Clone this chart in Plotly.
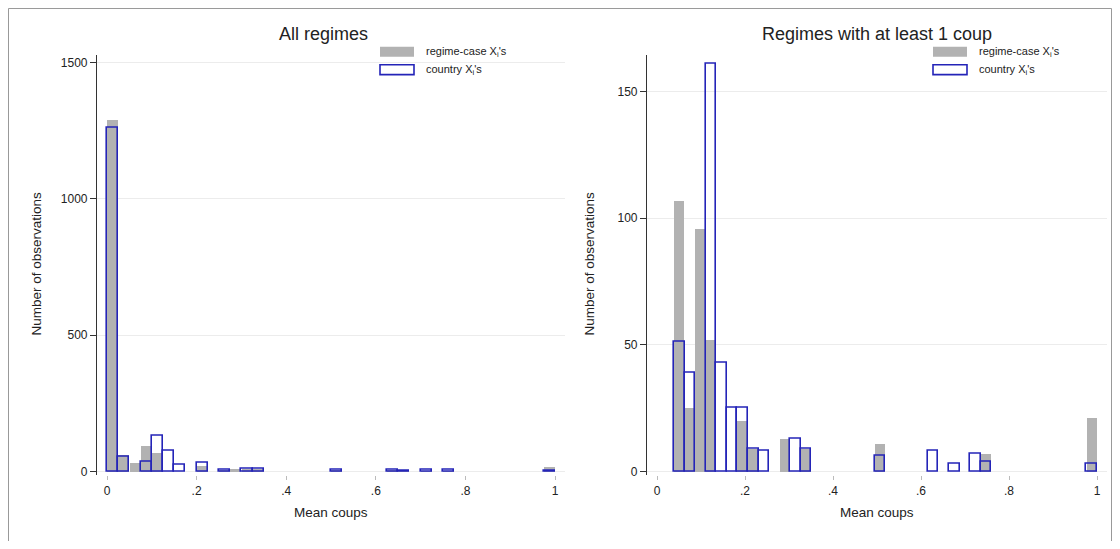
import plotly.graph_objects as go

# ---------------- data ----------------
n_bins = 40
left_start = 0.0
left_width = 0.025
right_start = 1 / 26
right_width = (1 - 1 / 26) / 40

left_regime = [1290, 62, 30, 95, 68, 0, 0, 0, 22, 0,
               3, 8, 10, 8, 0, 0, 0, 0, 0, 0,
               3, 0, 0, 0, 0, 3, 2, 0, 2, 0,
               2, 0, 0, 0, 0, 0, 0, 0, 0, 18]
left_country = [1260, 52, 0, 36, 130, 76, 25, 0, 30, 0,
                5, 0, 10, 10, 0, 0, 0, 0, 0, 0,
                5, 0, 0, 0, 0, 5, 2, 0, 5, 0,
                5, 0, 0, 0, 0, 0, 0, 0, 0, 3]
right_regime = [107, 25, 96, 52, 0, 0, 20, 9, 0, 0,
                13, 0, 9, 0, 0, 0, 0, 0, 0, 11,
                0, 0, 0, 0, 0, 0, 0, 0, 0, 7,
                0, 0, 0, 0, 0, 0, 0, 0, 0, 21]
right_country = [51, 39, 0, 161, 43, 25, 25, 9, 8, 0,
                 0, 13, 9, 0, 0, 0, 0, 0, 0, 6,
                 0, 0, 0, 0, 8, 0, 3, 0, 7, 4,
                 0, 0, 0, 0, 0, 0, 0, 0, 0, 3]

x_tickvals = [0, 0.2, 0.4, 0.6, 0.8, 1]
x_ticktext = ["0", ".2", ".4", ".6", ".8", "1"]
left_yticks = [0, 500, 1000, 1500]
right_yticks = [0, 50, 100, 150]

titles = ["All regimes", "Regimes with at least 1 coup"]
series_names = ["regime-case X<sub>i</sub>'s", "country X<sub>i</sub>'s"]
x_title = "Mean coups"
y_title = "Number of observations"

# ---------------- styling ----------------
# the page body adds an 8px margin, so the figure is 16px smaller than the window
W, H = 1104, 533
GRAY = "#b2b2b2"
BLUE = "#2424b8"
FONT = "Arial, Liberation Sans, Helvetica, sans-serif"


def centers(start, width):
    return [start + width * (i + 0.5) for i in range(n_bins)]


def nz(vals, xs):
    px = [x for x, v in zip(xs, vals) if v > 0]
    py = [v for v in vals if v > 0]
    return px, py


def px_x(p):
    return p / W


def px_y(p):
    return (H - p) / H


fig = go.Figure()

panels = [
    dict(start=left_start, width=left_width, reg=left_regime, cty=left_country,
         xa="x", ya="y"),
    dict(start=right_start, width=right_width, reg=right_regime, cty=right_country,
         xa="x2", ya="y2"),
]

for p in panels:
    xs = centers(p["start"], p["width"])
    gx, gy = nz(p["reg"], xs)
    bx, by = nz(p["cty"], xs)
    fig.add_trace(go.Bar(x=gx, y=gy, width=p["width"] * 0.98, name=series_names[0],
                         marker=dict(color=GRAY, line=dict(width=0)),
                         xaxis=p["xa"], yaxis=p["ya"], showlegend=False))
    fig.add_trace(go.Bar(x=bx, y=by, width=p["width"],
                         name=series_names[1],
                         marker=dict(color="rgba(0,0,0,0)", line=dict(color=BLUE, width=1.6)),
                         xaxis=p["xa"], yaxis=p["ya"], showlegend=False))

# plot areas in figure pixels
top_px, bot_px = 47, 470
left_px = (89, 557)
right_px = (639, 1099)
y_dom = [px_y(bot_px), px_y(top_px)]
left_dom = [px_x(left_px[0]), px_x(left_px[1])]
right_dom = [px_x(right_px[0]), px_x(right_px[1])]

xcommon = dict(tickvals=x_tickvals, ticktext=x_ticktext, showgrid=False, zeroline=False,
               showline=False, ticks="outside", ticklen=4, tickcolor="#bbbbbb",
               tickfont=dict(size=12, color="#222", family=FONT))
ycommon = dict(showgrid=True, gridcolor="#ececec", gridwidth=1, zeroline=False,
               showline=True, linecolor="#333", linewidth=1.2,
               ticks="outside", ticklen=6, tickcolor="#333",
               tickfont=dict(size=12, color="#222", family=FONT))

fig.update_layout(
    width=W, height=H,
    margin=dict(l=0, r=0, t=0, b=0),
    paper_bgcolor="white", plot_bgcolor="white",
    barmode="overlay", bargap=0,
    font=dict(family=FONT, color="#222"),
    xaxis=dict(domain=left_dom, range=[-10 / 448, 1 + 10 / 448], anchor="y", **xcommon),
    yaxis=dict(domain=y_dom, range=[-14.6, 1529], tickvals=left_yticks, anchor="x", **ycommon),
    xaxis2=dict(domain=right_dom, range=[-10 / 440, 1 + 10 / 440], anchor="y2", **xcommon),
    yaxis2=dict(domain=y_dom, range=[-1.57, 164.5], tickvals=right_yticks, anchor="x2", **ycommon),
    showlegend=False,
)

ann = []
shapes = []
panel_centers = [(left_px[0] + left_px[1]) / 2, (right_px[0] + right_px[1]) / 2]
for t, cx in zip(titles, [315, 869]):
    ann.append(dict(text=t, x=px_x(cx), y=px_y(26), xref="paper", yref="paper",
                    xanchor="center", yanchor="middle",
                    showarrow=False, font=dict(size=18, color="#222", family=FONT)))
for cx in panel_centers:
    ann.append(dict(text=x_title, x=px_x(cx), y=px_y(507), xref="paper", yref="paper",
                    xanchor="center", yanchor="middle",
                    showarrow=False, font=dict(size=13.5, color="#222", family=FONT)))
for cx in [29, 582]:
    ann.append(dict(text=y_title, x=px_x(cx), y=px_y(257), xref="paper", yref="paper",
                    xanchor="center", yanchor="middle",
                    showarrow=False, textangle=-90, font=dict(size=13.5, color="#222", family=FONT)))

# legends (one per panel), drawn as swatch + label
for sx in [372, 925]:
    for row, (name, style) in enumerate(zip(series_names, ["fill", "outline"])):
        cy = 44 + row * 18
        if style == "fill":
            shapes.append(dict(type="rect", xref="paper", yref="paper",
                               x0=px_x(sx), x1=px_x(sx + 34), y0=px_y(cy + 5), y1=px_y(cy - 5),
                               fillcolor=GRAY, line=dict(width=0)))
        else:
            shapes.append(dict(type="rect", xref="paper", yref="paper",
                               x0=px_x(sx), x1=px_x(sx + 34), y0=px_y(cy + 5), y1=px_y(cy - 5),
                               fillcolor="white", line=dict(color=BLUE, width=1.6)))
        ann.append(dict(text=name, x=px_x(sx + 44), y=px_y(cy), xref="paper", yref="paper",
                        xanchor="left", yanchor="middle", showarrow=False,
                        font=dict(size=11, color="#222", family=FONT)))

# outer frame
shapes.append(dict(type="path", xref="paper", yref="paper",
                   path=f"M {px_x(0.5)} {px_y(H + 5)} L {px_x(0.5)} {px_y(0.5)} "
                        f"L {px_x(W - 0.5)} {px_y(0.5)} L {px_x(W - 0.5)} {px_y(H + 5)}",
                   line=dict(color="#999", width=1)))

fig.update_layout(annotations=ann, shapes=shapes)

fig.write_html("out.html")
